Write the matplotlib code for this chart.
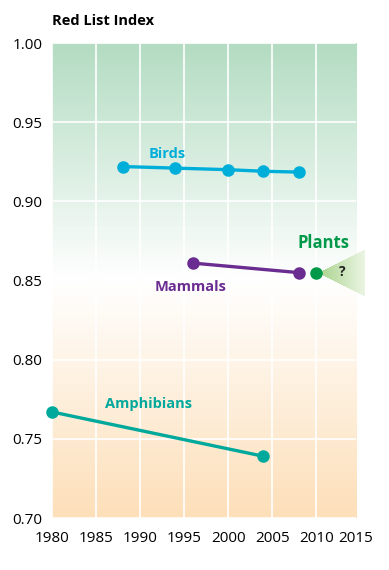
import matplotlib
matplotlib.use("Agg")
import matplotlib.pyplot as plt
import numpy as np
from matplotlib.colors import LinearSegmentedColormap
from matplotlib.patches import Polygon
from matplotlib.transforms import blended_transform_factory

plt.rcParams['font.family'] = ['Open Sans', 'DejaVu Sans']

bird_years = [1988, 1994, 2000, 2004, 2008]
bird_rli = [0.922, 0.921, 0.920, 0.919, 0.9185]
mammal_years = [1996, 2008]
mammal_rli = [0.861, 0.855]
plant_years = [2010]
plant_rli = [0.855]
amph_years = [1980, 2004]
amph_rli = [0.767, 0.739]

x_ticks = [1980, 1985, 1990, 1995, 2000, 2005, 2010]
y_ticks = [0.70, 0.75, 0.80, 0.85, 0.90, 0.95, 1.00]

BIRD = "#00AEDA"
MAMMAL = "#6A2C91"
PLANT = "#00994A"
AMPH = "#00A99C"

fig = plt.figure(figsize=(3.89, 5.7), dpi=100)
ax = fig.add_axes([0.1337, 0.0912, 0.7815, 0.8333])
xmin, xmax, ymin, ymax = 1980, 2014.5, 0.70, 1.00
ax.set_xlim(xmin, xmax)
ax.set_ylim(ymin, ymax)

# background: green at top fading to white, then to peach at bottom
bg = LinearSegmentedColormap.from_list(
    "bg", [(0.0, "#FDDFB9"), (0.5, "#FFFFFF"), (1.0, "#B3DCC2")])
grad = np.linspace(0, 1, 256).reshape(-1, 1)
ax.imshow(grad, cmap=bg, origin="lower", aspect="auto",
          extent=[xmin, xmax, ymin, ymax], zorder=0)

ax.set_xticks(x_ticks)
ax.set_yticks(y_ticks)
ax.set_yticklabels(["%.2f" % v for v in y_ticks])
ax.grid(True, color="white", linewidth=1.2)
ax.set_axisbelow(True)
ax.tick_params(length=0, labelsize=11)
ax.tick_params(axis="x", pad=9)
ax.tick_params(axis="y", pad=7)
for s in ax.spines.values():
    s.set_visible(False)

# last year label sits at the right edge of the panel
trans = blended_transform_factory(ax.transData, ax.transAxes)
ax.annotate("2015", xy=(xmax, 0), xycoords=trans, xytext=(0, -9),
            textcoords="offset points", ha="center", va="top", fontsize=11)

# uncertainty cone for plants, drawn as thin slices to get a fade
apex_x, apex_y = 2010.3, 0.8547
end_x, half = 2015.5, 0.0143
cone_cmap = LinearSegmentedColormap.from_list("cone", ["#A9D38C", "#EAF4E2"])
n = 60
xs = np.linspace(apex_x, end_x, n + 1)
for i in range(n):
    x0, x1 = xs[i], xs[i + 1]
    h0 = half * (x0 - apex_x) / (end_x - apex_x)
    h1 = half * (x1 - apex_x) / (end_x - apex_x)
    ax.add_patch(Polygon([(x0, apex_y - h0), (x1, apex_y - h1),
                          (x1, apex_y + h1), (x0, apex_y + h0)],
                         closed=True, facecolor=cone_cmap(i / (n - 1)),
                         edgecolor="none", clip_on=False, zorder=1.5,
                         antialiased=False))
ax.text(2013.0, 0.8555, "?", fontsize=10, fontweight="bold", color="#222222",
        ha="center", va="center", zorder=3)

kw = dict(marker="o", markersize=8, linewidth=2.4, clip_on=False, zorder=3)
ax.plot(bird_years, bird_rli, color=BIRD, **kw)
ax.plot(mammal_years, mammal_rli, color=MAMMAL, **kw)
ax.plot(plant_years, plant_rli, color=PLANT, **kw)
ax.plot(amph_years, amph_rli, color=AMPH, **kw)

ax.text(1993.1, 0.930, "Birds", color=BIRD, fontsize=10.5, fontweight="bold",
        ha="center", va="center")
ax.text(1995.7, 0.846, "Mammals", color=MAMMAL, fontsize=10.5, fontweight="bold",
        ha="center", va="center")
ax.text(2010.8, 0.874, "Plants", color=PLANT, fontsize=12, fontweight="bold",
        ha="center", va="center")
ax.text(1990.9, 0.772, "Amphibians", color=AMPH, fontsize=10.5, fontweight="bold",
        ha="center", va="center")

fig.text(0.1337, 0.963, "Red List Index", fontsize=10.5, fontweight="bold",
         ha="left", va="center")

fig.savefig("out.png", dpi=100)
